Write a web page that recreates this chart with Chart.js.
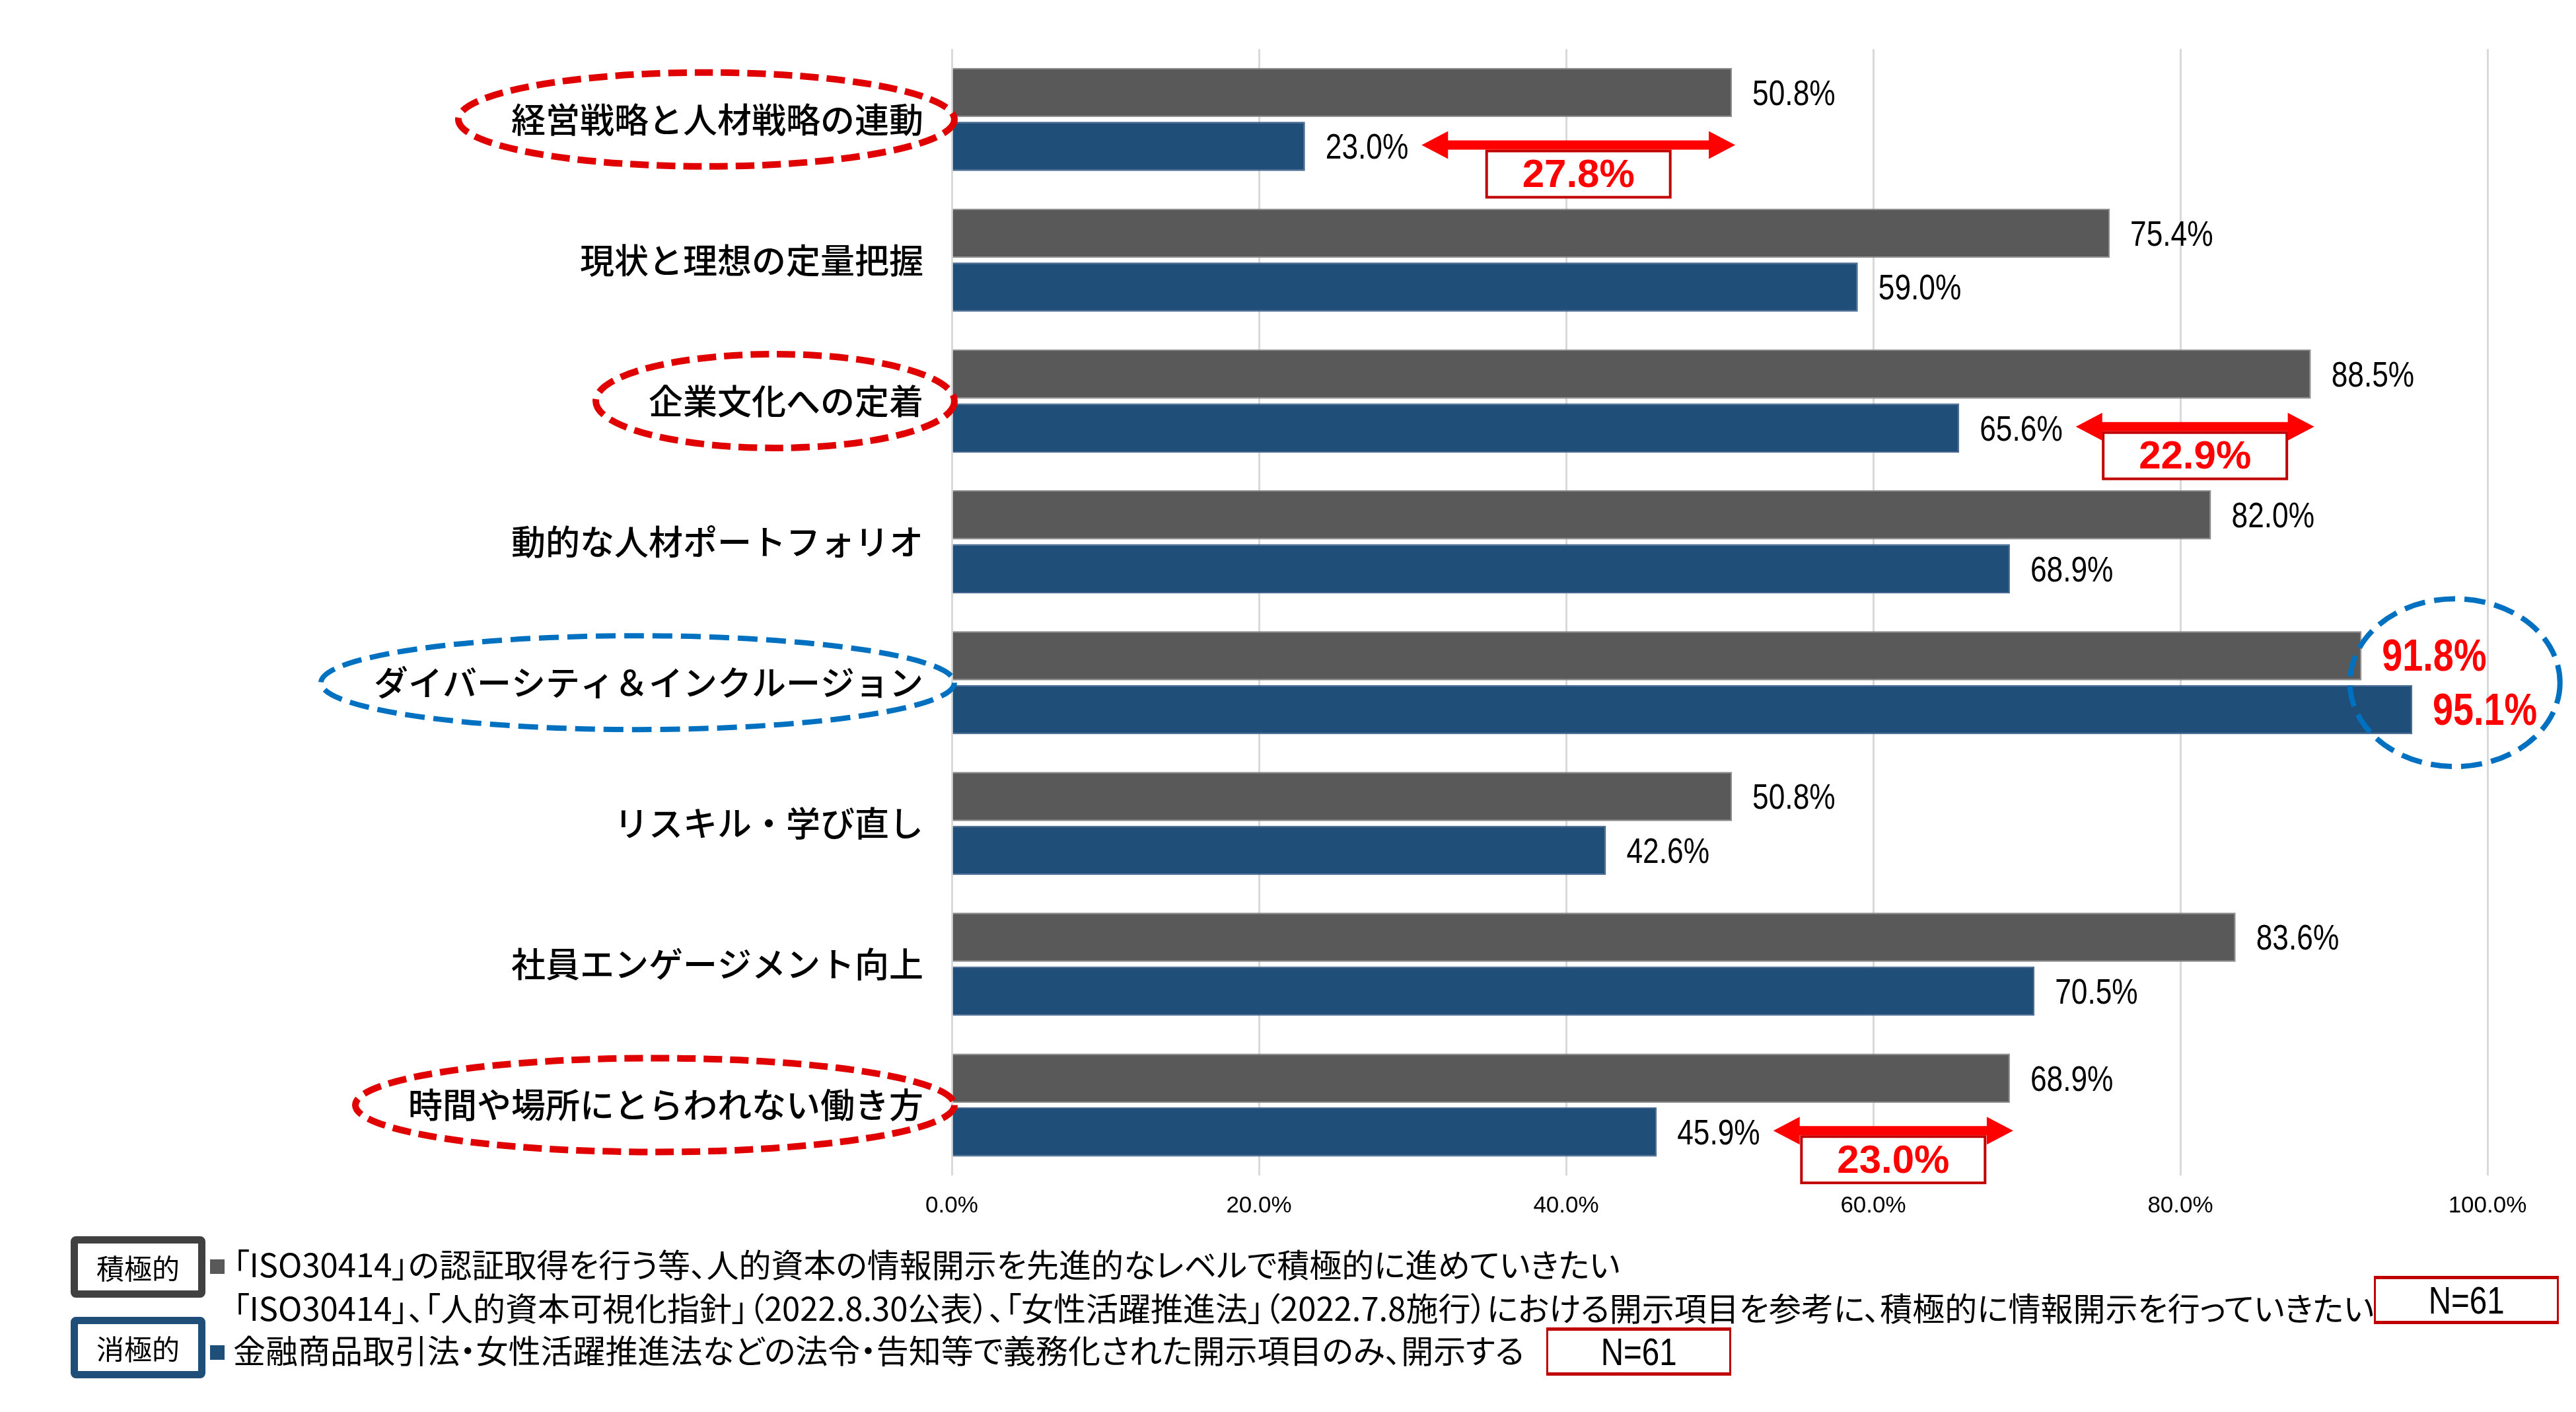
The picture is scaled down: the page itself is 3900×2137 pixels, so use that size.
<!DOCTYPE html>
<html lang="ja">
<head>
<meta charset="utf-8">
<title>人的資本の情報開示</title>
<script src="https://cdn.jsdelivr.net/npm/chart.js@4.4.1/dist/chart.umd.min.js"></script>
<style>
html, body { margin:0; padding:0; background:#fff; }
body { width:3900px; height:2137px; position:relative; overflow:hidden; font-family:"Noto Sans CJK JP", sans-serif; color:#000; }
#wrap { position:absolute; left:0; top:0; width:3900px; height:1900px; }
.tag { position:absolute; left:107px; box-sizing:border-box; width:204px; height:93px; border:11px solid; border-radius:8px; font-size:42px; display:flex; align-items:center; justify-content:center; }
.line { position:absolute; left:318px; height:60px; line-height:60px; font-size:49px; white-space:nowrap; font-feature-settings:"palt"; }
.sq { display:inline-block; width:22px; height:22px; margin-right:13px; vertical-align:middle; position:relative; top:-3px; }
.nbox { position:absolute; box-sizing:border-box; width:280px; height:73px; border:3px solid #C00000; border-top-width:5px; border-bottom-width:5px; font-family:"Liberation Sans",Arial,sans-serif; font-size:58px; display:flex; align-items:center; justify-content:center; }
.nbox span { display:inline-block; transform:scaleX(0.82); }
</style>
</head>
<body>
<div id="wrap"><canvas id="chart"></canvas></div>
<div class="tag" id="tag0" style="top:1871px;border-color:#404040"></div>
<div class="tag" id="tag1" style="top:1993px;border-color:#1F4E79"></div>
<div class="line" id="line0" style="top:1882px"><span class="sq" style="background:#595959"></span><span></span></div>
<div class="line" id="line1" style="top:1948px;left:353px"><span></span></div>
<div class="line" id="line2" style="top:2012px"><span class="sq" style="background:#1F4E79"></span><span></span></div>
<div class="nbox" id="n0" style="left:3594px;top:1931px"><span></span></div>
<div class="nbox" id="n1" style="left:2341px;top:2009px"><span></span></div>
<script>
var categories = ["経営戦略と人材戦略の連動", "現状と理想の定量把握", "企業文化への定着", "動的な人材ポートフォリオ",
  "ダイバーシティ＆インクルージョン", "リスキル・学び直し", "社員エンゲージメント向上", "時間や場所にとらわれない働き方"];
var positive = [50.8, 75.4, 88.5, 82.0, 91.8, 50.8, 83.6, 68.9];
var negative = [23.0, 59.0, 65.6, 68.9, 95.1, 42.6, 70.5, 45.9];
var xTicks = [0, 20, 40, 60, 80, 100];
var seriesNames = ["積極的", "消極的"];
var seriesText = [
  "「ISO30414」の認証取得を行う等、人的資本の情報開示を先進的なレベルで積極的に進めていきたい",
  "「ISO30414」、「人的資本可視化指針」（2022.8.30公表）、「女性活躍推進法」（2022.7.8施行）における開示項目を参考に、積極的に情報開示を行っていきたい",
  "金融商品取引法・女性活躍推進法などの法令・告知等で義務化された開示項目のみ、開示する"
];
var sampleSize = [61, 61];
var redCircled = [0, 2, 7];
var blueCircled = [4];
var gapRows = [0, 2, 7];

var NUM = '"Liberation Sans", Arial, sans-serif';
var JP = '"Noto Sans CJK JP", sans-serif';

// legend below the chart
document.getElementById('tag0').textContent = seriesNames[0];
document.getElementById('tag1').textContent = seriesNames[1];
document.querySelector('#line0 span:last-child').textContent = seriesText[0];
document.querySelector('#line1 span').textContent = seriesText[1];
document.querySelector('#line2 span:last-child').textContent = seriesText[2];
document.querySelector('#n0 span').textContent = 'N=' + sampleSize[0];
document.querySelector('#n1 span').textContent = 'N=' + sampleSize[1];

function dashEllipse(ctx, cx, cy, rx, ry, color, lw, dash) {
  ctx.save();
  ctx.beginPath();
  ctx.ellipse(cx, cy, rx, ry, 0, 0, Math.PI * 2);
  ctx.strokeStyle = color;
  ctx.lineWidth = lw;
  ctx.setLineDash(dash);
  ctx.stroke();
  ctx.restore();
}

// narrow text, like Arial Narrow
function narrowText(ctx, t, x, y, sx) {
  ctx.save();
  ctx.translate(x, y);
  ctx.scale(sx, 1);
  ctx.fillText(t, 0, 0);
  ctx.restore();
  return ctx.measureText(t).width * sx;
}

function arrow(ctx, x1, x2, yc) {
  var hl = 40, hh = 21, sh = 7;
  ctx.beginPath();
  ctx.moveTo(x1, yc);
  ctx.lineTo(x1 + hl, yc - hh);
  ctx.lineTo(x1 + hl, yc - sh);
  ctx.lineTo(x2 - hl, yc - sh);
  ctx.lineTo(x2 - hl, yc - hh);
  ctx.lineTo(x2, yc);
  ctx.lineTo(x2 - hl, yc + hh);
  ctx.lineTo(x2 - hl, yc + sh);
  ctx.lineTo(x1 + hl, yc + sh);
  ctx.lineTo(x1 + hl, yc + hh);
  ctx.closePath();
  ctx.fillStyle = '#FF0000';
  ctx.fill();
}

const marks = {
  id: 'marks',
  afterDatasetsDraw(chart) {
    const ctx = chart.ctx, area = chart.chartArea, y = chart.scales.y;
    const gray = chart.getDatasetMeta(0).data;
    const blue = chart.getDatasetMeta(1).data;
    const ends = [[], []];
    ctx.save();
    ctx.textBaseline = 'middle';
    ctx.textAlign = 'left';
    [gray, blue].forEach((bars, d) => {
      const vals = d === 0 ? positive : negative;
      bars.forEach((bar, i) => {
        const hot = blueCircled.includes(i);
        ctx.font = hot ? 'bold 68px ' + NUM : '54px ' + NUM;
        ctx.fillStyle = hot ? '#FF0000' : '#000';
        const t = vals[i].toFixed(1) + '%';
        const w = narrowText(ctx, t, bar.x + 31, bar.y + 4, 0.82);
        ends[d][i] = [bar.x + 31, bar.x + 31 + w];
      });
    });

    // difference arrows
    gapRows.forEach(i => {
      const yA = blue[i].y - 2;
      const x1 = ends[1][i][1] + 20;
      const x2 = gray[i].x + 5;
      const mid = (x1 + x2) / 2;
      ctx.fillStyle = '#fff';
      ctx.fillRect(mid - 139, yA + 9, 278, 70);
      ctx.strokeStyle = '#C00000';
      ctx.lineWidth = 4;
      ctx.strokeRect(mid - 139, yA + 9, 278, 70);
      ctx.font = 'bold 60px ' + NUM;
      ctx.fillStyle = '#FF0000';
      ctx.textAlign = 'center';
      ctx.fillText((positive[i] - negative[i]).toFixed(1) + '%', mid, yA + 47);
      arrow(ctx, x1, x2, yA);
    });

    // circled category labels
    ctx.font = '500 52px ' + JP;
    redCircled.concat(blueCircled).forEach(i => {
      const w = ctx.measureText(categories[i]).width;
      const right = area.left + 4;
      const left = area.left - 43 - w - 80;
      const blueOne = blueCircled.includes(i);
      dashEllipse(ctx, (left + right) / 2, y.getPixelForValue(i), (right - left) / 2, 71,
        blueOne ? '#0070C0' : '#E00000', blueOne ? 8 : 10, blueOne ? [30, 13] : [28, 12]);
    });
    blueCircled.forEach(i => {
      const cx = (ends[0][i][0] + ends[1][i][1]) / 2 - 7;
      dashEllipse(ctx, cx, y.getPixelForValue(i), 159, 127, '#0070C0', 8, [32, 14]);
    });
    ctx.restore();
  }
};

new Chart(document.getElementById('chart'), {
  type: 'bar',
  data: {
    labels: categories,
    datasets: [
      { label: seriesNames[0], data: positive, backgroundColor: '#595959', borderColor: '#8A8A8A', borderWidth: 2,
        barPercentage: 0.914, categoryPercentage: 0.765 },
      { label: seriesNames[1], data: negative, backgroundColor: '#1F4E79', borderColor: '#46688F', borderWidth: 2,
        barPercentage: 0.914, categoryPercentage: 0.765 }
    ]
  },
  options: {
    indexAxis: 'y',
    responsive: true,
    maintainAspectRatio: false,
    animation: false,
    layout: { padding: { top: 74, right: 134, bottom: 21, left: 0 } },
    plugins: { legend: { display: false }, tooltip: { enabled: false } },
    scales: {
      x: {
        min: 0, max: 100,
        afterBuildTicks: s => { s.ticks = xTicks.map(v => ({ value: v })); },
        ticks: { callback: v => Number(v).toFixed(1) + '%', font: { family: NUM, size: 35 }, color: '#000', padding: 25, maxRotation: 0 },
        grid: { color: '#D9D9D9', lineWidth: 3, drawTicks: false },
        border: { display: false },
        afterFit: s => { s.height = 100; }
      },
      y: {
        ticks: { font: { family: JP, size: 52, weight: 500 }, color: '#000', padding: 43 },
        grid: { display: false, drawTicks: false },
        border: { display: false },
        afterFit: s => { s.width = 1441; }
      }
    }
  },
  plugins: [marks]
});
</script>
</body>
</html>
